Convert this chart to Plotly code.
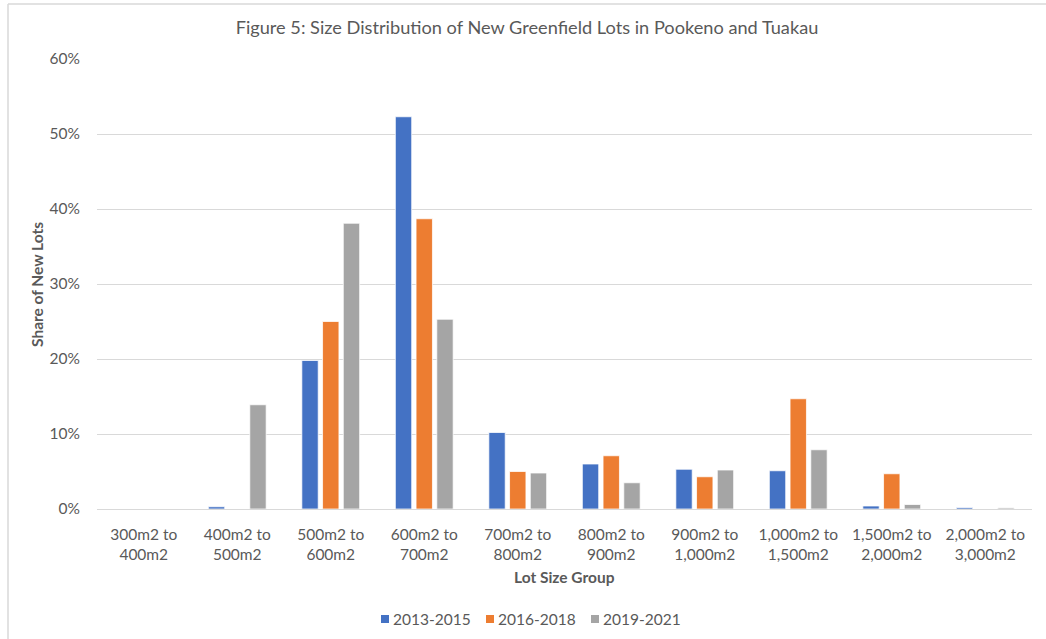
import plotly.graph_objects as go

# Lot size groups (two-line tick labels)
categories = [
    "300m2 to<br>400m2", "400m2 to<br>500m2", "500m2 to<br>600m2",
    "600m2 to<br>700m2", "700m2 to<br>800m2", "800m2 to<br>900m2",
    "900m2 to<br>1,000m2", "1,000m2 to<br>1,500m2", "1,500m2 to<br>2,000m2",
    "2,000m2 to<br>3,000m2",
]

# Share of new lots per period (fractions)
share_2013_2015 = [0.000, 0.003, 0.198, 0.523, 0.102, 0.060, 0.053, 0.051, 0.004, 0.002]
share_2016_2018 = [0.000, 0.000, 0.250, 0.387, 0.050, 0.071, 0.043, 0.147, 0.047, 0.000]
share_2019_2021 = [0.000, 0.139, 0.381, 0.253, 0.048, 0.035, 0.052, 0.079, 0.006, 0.0015]

series = [
    ("2013-2015", share_2013_2015, "#4472C4"),
    ("2016-2018", share_2016_2018, "#ED7D31"),
    ("2019-2021", share_2019_2021, "#A5A5A5"),
]

FONT = "Lato"
TEXT = "#595959"
GRID = "#D9D9D9"
TICK_SIZE = 15.5

fig = go.Figure()
for name, vals, color in series:
    fig.add_trace(go.Bar(
        name=name, x=categories, y=vals, showlegend=False,
        marker=dict(color=color, line=dict(color="white", width=0.75)),
    ))

W, H = 1046, 639
L, R, T, B = 97, 14, 59, 130
pw, ph = W - L - R, H - T - B


def px_x(x):
    return (x - L) / pw


def px_y(y):
    return (H - B - y) / ph


fig.update_layout(
    width=W, height=H,
    margin=dict(l=L, r=R, t=T, b=B, autoexpand=False),
    paper_bgcolor="white", plot_bgcolor="white",
    barmode="group", bargap=0.335, bargroupgap=0.21,
    font=dict(family=FONT, color=TEXT, size=TICK_SIZE),
    title=dict(
        text="Figure 5: Size Distribution of New Greenfield Lots in Pookeno and Tuakau",
        x=527 / W, xanchor="center", xref="container",
        y=1 - 28 / H, yanchor="middle",
        font=dict(family=FONT, size=18.2, color=TEXT),
    ),
    showlegend=False,
)

fig.update_xaxes(
    showgrid=False, showline=True, linecolor=GRID, linewidth=1,
    ticks="", tickfont=dict(family=FONT, size=TICK_SIZE, color=TEXT),
    ticklabelstandoff=11,
)
fig.update_yaxes(
    range=[0, 0.6], dtick=0.1, tickformat=".0%",
    showgrid=True, gridcolor=GRID, gridwidth=1,
    zeroline=False, showline=False,
    ticks="", tickfont=dict(family=FONT, size=TICK_SIZE, color=TEXT),
    ticklabelstandoff=16,
)

# Axis titles
fig.add_annotation(
    text="<b>Lot Size Group</b>", xref="paper", yref="paper",
    x=px_x(564), y=px_y(577), xanchor="center", yanchor="middle",
    showarrow=False, font=dict(family=FONT, size=15.5, color=TEXT),
)
fig.add_annotation(
    text="<b>Share of New Lots</b>", xref="paper", yref="paper",
    x=px_x(37), y=px_y(284), xanchor="center", yanchor="middle",
    textangle=-90, showarrow=False, font=dict(family=FONT, size=15.5, color=TEXT),
)

# Legend row: a small colour key followed by the series name
LEG_Y = 619
LEG_START = 381
LEG_STEP = 105
KEY = 8
for i, (name, _, color) in enumerate(series):
    x0 = LEG_START + i * LEG_STEP
    fig.add_shape(type="rect", xref="paper", yref="paper",
                  x0=px_x(x0), x1=px_x(x0 + KEY),
                  y0=px_y(LEG_Y - KEY / 2), y1=px_y(LEG_Y + KEY / 2),
                  fillcolor=color, line=dict(width=0))
    fig.add_annotation(
        text=name, xref="paper", yref="paper",
        x=px_x(x0 + KEY + 2), y=px_y(LEG_Y), xanchor="left", yanchor="middle",
        showarrow=False, font=dict(family=FONT, size=15.5, color=TEXT),
    )

# Chart-area frame (only top and left edges fall inside the page)
fig.add_shape(type="line", xref="paper", yref="paper",
              x0=px_x(8), x1=px_x(1046), y0=px_y(4), y1=px_y(4),
              line=dict(color=GRID, width=1.5))
fig.add_shape(type="line", xref="paper", yref="paper",
              x0=px_x(8), x1=px_x(8), y0=px_y(4), y1=px_y(639),
              line=dict(color=GRID, width=1.5))

fig.write_html("out.html")
